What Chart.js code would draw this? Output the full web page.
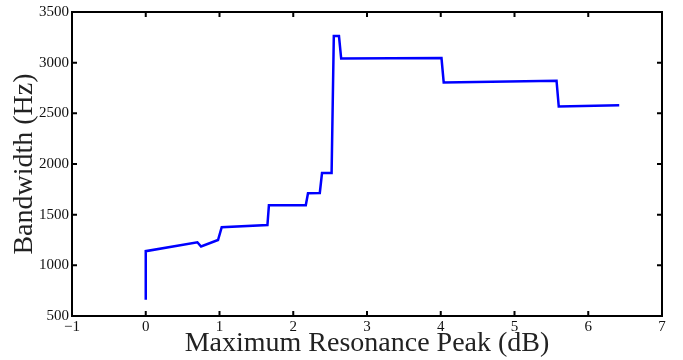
<!DOCTYPE html>
<html>
<head>
<meta charset="utf-8">
<script src="https://cdn.jsdelivr.net/npm/chart.js@4"></script>
<style>
  html, body { margin: 0; padding: 0; background: #fff; }
  #wrap { width: 683px; height: 360px; }
</style>
</head>
<body>
<div id="wrap"><canvas id="bwChart" width="683" height="360"></canvas></div>
<script>
// Maximum resonance peak (dB) vs bandwidth (Hz)
const peakDb = [0, 0, 0.70, 0.75, 0.98, 1.03, 1.65, 1.67, 2.17, 2.20, 2.36, 2.39, 2.52, 2.55, 2.62, 2.65, 4.01, 4.04, 5.57, 5.60, 6.42];
const bandwidthHz = [660, 1140, 1228, 1186, 1250, 1377, 1397, 1593, 1593, 1712, 1714, 1910, 1910, 3262, 3262, 3040, 3045, 2805, 2822, 2567, 2580];
const xTicks = [-1, 0, 1, 2, 3, 4, 5, 6, 7];
const yTicks = [500, 1000, 1500, 2000, 2500, 3000, 3500];

const serif = "'Liberation Serif', 'DejaVu Serif', serif";
const points = peakDb.map((x, i) => ({ x: x, y: bandwidthHz[i] }));

// matlab style frame with ticks pointing inwards on every side
const frame = {
  id: 'frame',
  afterDraw(chart) {
    const { ctx, chartArea: a, scales } = chart;
    ctx.save();
    ctx.strokeStyle = '#000';
    ctx.lineWidth = 2;
    ctx.strokeRect(a.left, a.top, a.right - a.left, a.bottom - a.top);
    ctx.beginPath();
    xTicks.forEach(v => {
      const px = scales.x.getPixelForValue(v);
      ctx.moveTo(px, a.bottom); ctx.lineTo(px, a.bottom - 5);
      ctx.moveTo(px, a.top); ctx.lineTo(px, a.top + 5);
    });
    yTicks.forEach(v => {
      const py = scales.y.getPixelForValue(v);
      ctx.moveTo(a.left, py); ctx.lineTo(a.left + 5, py);
      ctx.moveTo(a.right, py); ctx.lineTo(a.right - 5, py);
    });
    ctx.stroke();
    ctx.restore();
  }
};

new Chart(document.getElementById('bwChart'), {
  type: 'scatter',
  data: {
    datasets: [{
      data: points,
      showLine: true,
      borderColor: '#0000ff',
      borderWidth: 2.5,
      pointRadius: 0,
      tension: 0,
      fill: false
    }]
  },
  options: {
    responsive: false,
    animation: false,
    layout: { padding: { top: 10, right: 21, left: 0, bottom: 0 } },
    plugins: {
      legend: { display: false },
      tooltip: { enabled: false }
    },
    scales: {
      x: {
        type: 'linear',
        min: -1,
        max: 7,
        afterFit: s => { s.height = 44; },
        afterBuildTicks: s => { s.ticks = xTicks.map(v => ({ value: v })); },
        grid: { display: false, drawTicks: false, tickLength: 0 },
        border: { display: false },
        ticks: {
          padding: 2,
          color: '#111',
          font: { family: serif, size: 15 },
          callback: v => String(v).replace('-', '\u2212')
        },
        title: {
          display: true,
          text: 'Maximum Resonance Peak (dB)',
          color: '#222',
          font: { family: serif, size: 28 },
          padding: { top: 0, bottom: 0 }
        }
      },
      y: {
        type: 'linear',
        min: 500,
        max: 3500,
        afterFit: s => { s.width = 72; },
        afterBuildTicks: s => { s.ticks = yTicks.map(v => ({ value: v })); },
        grid: { display: false, drawTicks: false, tickLength: 0 },
        border: { display: false },
        ticks: {
          padding: 3,
          color: '#111',
          font: { family: serif, size: 15 },
          callback: v => String(v)
        },
        title: {
          display: true,
          text: 'Bandwidth (Hz)',
          color: '#222',
          font: { family: serif, size: 28 },
          padding: { top: 8, bottom: 0 }
        }
      }
    }
  },
  plugins: [frame]
});
</script>
</body>
</html>
